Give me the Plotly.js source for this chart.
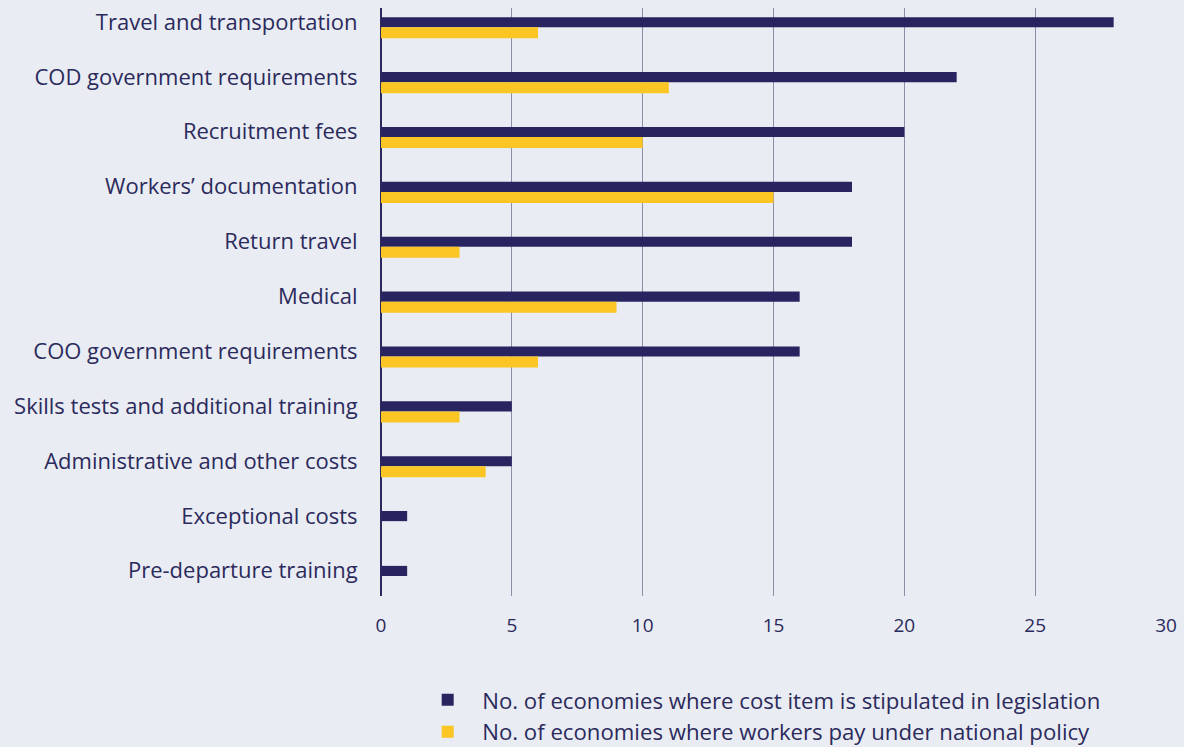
<!DOCTYPE html>
<html>
<head>
<meta charset="utf-8">
<script src="https://cdn.plot.ly/plotly-3.0.1.min.js"></script>
<style>html,body{margin:0;padding:0;background:#e9ecf2;}#chart{width:1184px;height:747px;}</style>
</head>
<body>
<div id="chart"></div>
<script>
const categories = [
  "Travel and transportation",
  "COD government requirements",
  "Recruitment fees",
  "Workers\u2019 documentation",
  "Return travel",
  "Medical",
  "COO government requirements",
  "Skills tests and additional training",
  "Administrative and other costs",
  "Exceptional costs",
  "Pre-departure training"
];
const legislationValues = [28, 22, 20, 18, 18, 16, 16, 5, 5, 1, 1];
const workersPayValues = [6, 11, 10, 15, 3, 9, 6, 3, 4, 0, 0];
const seriesNames = [
  "No. of economies where cost item is stipulated in legislation",
  "No. of economies where workers pay under national policy"
];
const xTicks = [0, 5, 10, 15, 20, 25, 30];

const textColor = "#2b2a5c";
const fam = "Open Sans, Noto Sans, sans-serif";

const traces = [
  {type: "bar", orientation: "h", y: categories, x: legislationValues, name: seriesNames[0],
   offset: -0.088, width: 0.185,
   marker: {color: "#27245f", line: {width: 0}}},
  {type: "bar", orientation: "h", y: categories, x: workersPayValues, name: seriesNames[1],
   offset: 0.097, width: 0.2,
   marker: {color: "#fbc523", line: {width: 0}}}
];

const layout = {
  width: 1184, height: 747,
  paper_bgcolor: "#e9ecf2", plot_bgcolor: "#e9ecf2",
  font: {family: fam, size: 22, color: textColor},
  margin: {l: 381, r: 18, t: 8, b: 151, autoexpand: false},
  barmode: "overlay",
  showlegend: true,
  legend: {
    x: 0.041, xanchor: "left", y: -0.141, yanchor: "top",
    orientation: "v", traceorder: "normal",
    font: {family: fam, size: 22.2, color: textColor},
    bgcolor: "rgba(0,0,0,0)", itemwidth: 59, tracegroupgap: 0
  },
  xaxis: {
    range: [0, 30], tickvals: xTicks, ticktext: xTicks.map(String),
    showgrid: true, gridcolor: "#8d8daa", gridwidth: 1,
    zeroline: true, zerolinecolor: "#2b2a5c", zerolinewidth: 2,
    showline: false, ticks: "outside", ticklen: 12, tickcolor: "rgba(0,0,0,0)",
    tickfont: {family: fam, size: 19, color: textColor},
    fixedrange: true, automargin: false
  },
  yaxis: {
    type: "category", categoryorder: "array", categoryarray: categories,
    range: [10.461, -0.255],
    showgrid: false, zeroline: false, showline: false,
    ticks: "outside", ticklen: 18, tickcolor: "rgba(0,0,0,0)",
    tickfont: {family: fam, size: 22, color: textColor},
    fixedrange: true, automargin: false
  }
};

Plotly.newPlot("chart", traces, layout, {displayModeBar: false, staticPlot: true});
</script>
</body>
</html>
